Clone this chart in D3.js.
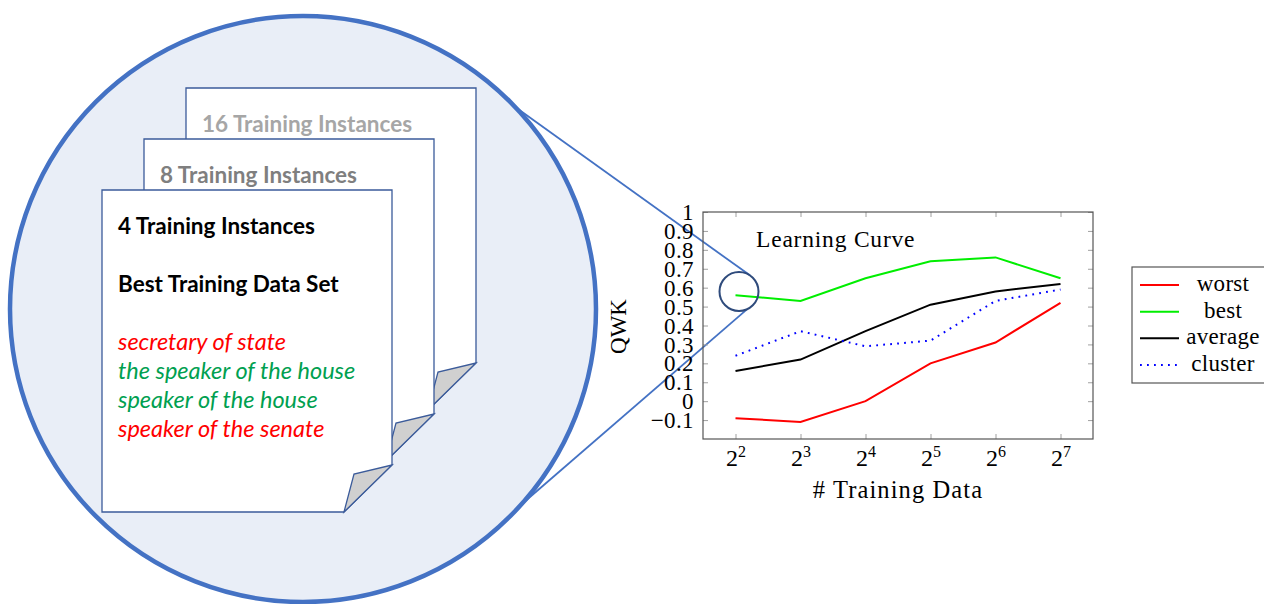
<!DOCTYPE html>
<meta charset="utf-8">
<style>
  body { margin: 0; background: #fff; }
  .tex { font-family: 'Liberation Serif', 'Times New Roman', serif; }
  .cal { font-family: 'Lato', 'Noto Sans', sans-serif; }
</style>
<svg width="1264" height="604"></svg>
<script src="https://d3js.org/d3.v7.min.js"></script>
<script>
// chart data
var exponents = [2, 3, 4, 5, 6, 7];
var worst   = [-0.09, -0.11, 0.00, 0.20, 0.31, 0.52];
var best    = [0.56, 0.53, 0.65, 0.74, 0.76, 0.65];
var average = [0.16, 0.22, 0.37, 0.51, 0.58, 0.62];
var cluster = [0.24, 0.37, 0.29, 0.32, 0.53, 0.59];
var seriesNames = ["worst", "best", "average", "cluster"];
var yTicks = [-0.1, 0, 0.1, 0.2, 0.3, 0.4, 0.5, 0.6, 0.7, 0.8, 0.9, 1];

// illustration text
var pageTitles = ["16 Training Instances", "8 Training Instances", "4 Training Instances"];
var bestSet = ["secretary of state", "the speaker of the house", "speaker of the house", "speaker of the senate"];
var bestSetGood = [false, true, true, false];

var svg = d3.select("svg");

// ---------- zoom illustration ----------
var big = {cx: 303, cy: 309, r: 293};
var small = {cx: 739, cy: 291.5, r: 19.5};

svg.append("circle")
    .attr("cx", big.cx).attr("cy", big.cy).attr("r", big.r)
    .attr("fill", "#e9eef7")
    .attr("stroke", "#4472c4")
    .attr("stroke-width", 4.5);

function onCircle(c, deg) {
  var a = deg * Math.PI / 180;
  return [c.cx + c.r * Math.cos(a), c.cy + c.r * Math.sin(a)];
}
[[-43.5, -56], [42.0, 66]].forEach(function(p) {
  var a = onCircle(big, p[0]), b = onCircle(small, p[1]);
  svg.append("line")
      .attr("x1", a[0]).attr("y1", a[1]).attr("x2", b[0]).attr("y2", b[1])
      .attr("stroke", "#4472c4").attr("stroke-width", 1.8);
});

// stacked pages, back to front
var page = {left: 186, top: 88, w: 290, h: 322, fold: 47};
var shift = {dx: -42, dy: 51};
var titleColors = ["#a6a6a6", "#7f7f7f", "#000"];

pageTitles.forEach(function(t, i) {
  var L = page.left + i * shift.dx, T = page.top + i * shift.dy,
      R = L + page.w, B = T + page.h, f = page.fold;
  var g = svg.append("g");
  g.append("path")
      .attr("d", "M" + L + "," + T + "H" + R + "V" + (B - f) + "L" + (R - f - 1) + "," + B + "H" + L + "Z")
      .attr("fill", "#fff")
      .attr("stroke", "#3b5b9a")
      .attr("stroke-width", 1.3);
  g.append("path")
      .attr("d", "M" + (R - f - 1) + "," + B + "L" + (R - 38) + "," + (B - 38) + "L" + R + "," + (B - f) + "Z")
      .attr("fill", "#d0d0d0")
      .attr("stroke", "#3b5b9a")
      .attr("stroke-width", 1.3);
  g.append("text")
      .attr("class", "cal")
      .attr("x", L + 16).attr("y", T + 44)
      .attr("font-size", 22.5).attr("font-weight", "bold")
      .attr("fill", titleColors[i])
      .text(t);
});

var front = {L: page.left + 2 * shift.dx, T: page.top + 2 * shift.dy};
svg.append("text")
    .attr("class", "cal")
    .attr("x", front.L + 16).attr("y", 292)
    .attr("font-size", 22.5).attr("font-weight", "bold")
    .text("Best Training Data Set");

svg.append("g").selectAll("text")
  .data(bestSet)
  .join("text")
    .attr("class", "cal")
    .attr("x", front.L + 16)
    .attr("y", function(d, i) { return 350 + i * 29; })
    .attr("font-size", 23.5)
    .attr("font-style", "italic")
    .attr("fill", function(d, i) { return bestSetGood[i] ? "#00a050" : "#ff0000"; })
    .text(function(d) { return d; });

// ---------- learning curve plot ----------
var plot = {left: 703, right: 1093, top: 212, bottom: 439};

var x = d3.scaleLog().base(2)
    .domain([Math.pow(2, 1.5), Math.pow(2, 7.5)])
    .range([plot.left, plot.right]);
var y = d3.scaleLinear()
    .domain([-0.2, 1])
    .range([plot.bottom, plot.top]);

var fmtY = function(d) {
  if (d === 0) return "0";
  if (d === 1) return "1";
  return (d < 0 ? "\u2212" : "") + Math.abs(d).toFixed(1);
};

var xVals = exponents.map(function(e) { return Math.pow(2, e); });

// left axis with labels
var yAxisL = svg.append("g")
    .attr("class", "tex")
    .attr("transform", "translate(" + plot.left + ",0)")
    .call(d3.axisLeft(y).tickValues(yTicks).tickSize(-5).tickPadding(9).tickFormat(fmtY));
// right inner ticks
var yAxisR = svg.append("g")
    .attr("transform", "translate(" + plot.right + ",0)")
    .call(d3.axisRight(y).tickValues(yTicks).tickSize(-5).tickFormat(""));
// bottom axis
var xAxisB = svg.append("g")
    .attr("class", "tex")
    .attr("transform", "translate(0," + plot.bottom + ")")
    .call(d3.axisBottom(x).tickValues(xVals).tickSize(-5).tickPadding(10).tickFormat(""));
var xAxisT = svg.append("g")
    .attr("transform", "translate(0," + plot.top + ")")
    .call(d3.axisTop(x).tickValues(xVals).tickSize(-5).tickFormat(""));

[yAxisL, yAxisR, xAxisB, xAxisT].forEach(function(a) {
  a.select(".domain").remove();
  a.selectAll(".tick line").attr("stroke", "#a0a0a0").attr("stroke-width", 1);
});
yAxisL.selectAll(".tick text")
    .attr("font-size", 23)
    .attr("letter-spacing", 0.4)
    .attr("fill", "#000")
    .attr("dy", "0.33em");

// x tick labels 2^n
xAxisB.selectAll(".tick text")
    .attr("y", 27)
    .attr("dy", 0)
    .attr("font-size", 24)
    .attr("fill", "#000")
    .each(function(d) {
      var t = d3.select(this);
      t.append("tspan").text("2");
      t.append("tspan")
          .attr("font-size", 16)
          .attr("dy", -9)
          .text(Math.round(Math.log2(d)));
    });

// frame
svg.append("rect")
    .attr("x", plot.left).attr("y", plot.top)
    .attr("width", plot.right - plot.left).attr("height", plot.bottom - plot.top)
    .attr("fill", "none")
    .attr("stroke", "#555")
    .attr("stroke-width", 1.2);

var series = [
  {name: "worst", values: worst, color: "#ff0000", dash: null},
  {name: "best", values: best, color: "#00ee00", dash: null},
  {name: "average", values: average, color: "#000000", dash: null},
  {name: "cluster", values: cluster, color: "#0000ff", dash: "1.8,5.2"}
];

var line = d3.line()
    .x(function(d, i) { return x(xVals[i]); })
    .y(function(d) { return y(d); });

svg.append("g").selectAll("path")
  .data(series)
  .join("path")
    .attr("d", function(s) { return line(s.values); })
    .attr("fill", "none")
    .attr("stroke", function(s) { return s.color; })
    .attr("stroke-width", 2)
    .attr("stroke-dasharray", function(s) { return s.dash; });

svg.append("text")
    .attr("class", "tex")
    .attr("x", 756).attr("y", 247)
    .attr("font-size", 23.5)
    .attr("letter-spacing", 0.8)
    .text("Learning Curve");

svg.append("text")
    .attr("class", "tex")
    .attr("x", (plot.left + plot.right) / 2).attr("y", 498)
    .attr("text-anchor", "middle")
    .attr("font-size", 24.5)
    .attr("letter-spacing", 1.1)
    .text("# Training Data");

svg.append("text")
    .attr("class", "tex")
    .attr("transform", "translate(626," + ((plot.top + plot.bottom) / 2 + 1) + ") rotate(-90)")
    .attr("text-anchor", "middle")
    .attr("font-size", 23)
    .text("QWK");

// magnifier circle on top of the plot
svg.append("circle")
    .attr("cx", small.cx).attr("cy", small.cy).attr("r", small.r)
    .attr("fill", "none")
    .attr("stroke", "#2f4b7c")
    .attr("stroke-width", 2);

// legend
var legend = svg.append("g").attr("class", "tex");
legend.append("rect")
    .attr("x", 1132).attr("y", 267)
    .attr("width", 140).attr("height", 116)
    .attr("fill", "#fff")
    .attr("stroke", "#555")
    .attr("stroke-width", 1.2);
var ly = d3.scalePoint().domain(seriesNames).range([285, 365]);
legend.selectAll("line")
  .data(series)
  .join("line")
    .attr("x1", 1140).attr("x2", 1179)
    .attr("y1", function(s) { return ly(s.name); })
    .attr("y2", function(s) { return ly(s.name); })
    .attr("stroke", function(s) { return s.color; })
    .attr("stroke-width", 2)
    .attr("stroke-dasharray", function(s) { return s.dash; });
legend.selectAll("text")
  .data(series)
  .join("text")
    .attr("x", 1223)
    .attr("y", function(s) { return ly(s.name) + 6; })
    .attr("text-anchor", "middle")
    .attr("font-size", 23)
    .attr("letter-spacing", 0.3)
    .text(function(s) { return s.name; });
</script>
